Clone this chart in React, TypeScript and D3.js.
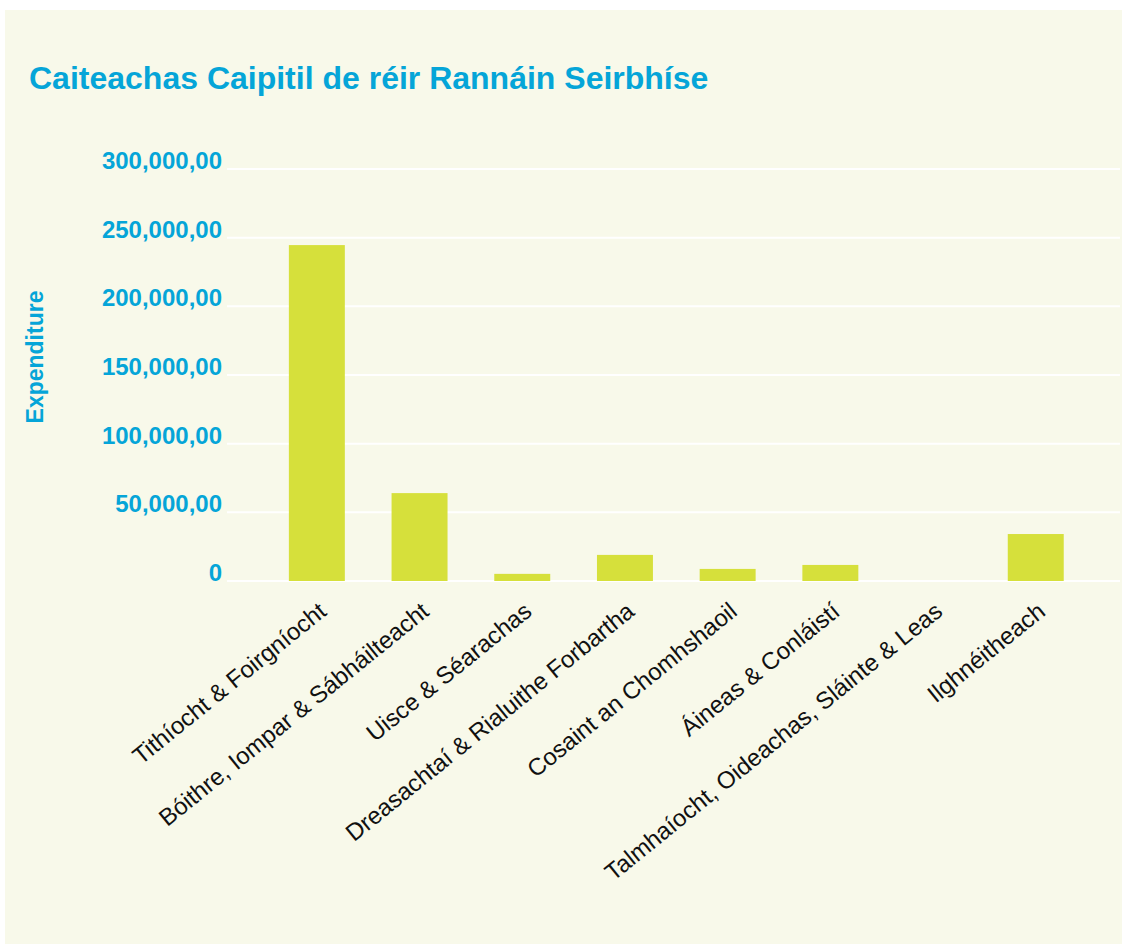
import React from "react";
import * as d3 from "d3";

const title = "Caiteachas Caipitil de réir Rannáin Seirbhíse";
const yAxisTitle = "Expenditure";
const categories = [
  "Tithíocht & Foirgníocht",
  "Bóithre, Iompar & Sábháilteacht",
  "Uisce & Séarachas",
  "Dreasachtaí & Rialuithe Forbartha",
  "Cosaint an Chomhshaoil",
  "Áineas & Conláistí",
  "Talmhaíocht, Oideachas, Sláinte & Leas",
  "Ilghnéitheach",
];
const values = [244600, 64000, 5200, 19000, 8800, 11700, 0, 34200];
const tickValues = [0, 50000, 100000, 150000, 200000, 250000, 300000];
const tickLabels = ["0", "50,000,00", "100,000,00", "150,000,00", "200,000,00", "250,000,00", "300,000,00"];

const W = 1122;
const H = 944;
const BLUE = "#05a5d8";
const BAR = "#d6e03b";
const BG = "#f8f9ea";
const FONT = "'Liberation Sans', Arial, sans-serif";

export default function App() {
  const y = d3.scaleLinear().domain([0, 300000]).range([581, 169]);
  const x = d3.scaleBand<string>().domain(categories).range([265.5, 1087.1]).paddingInner(0.455).paddingOuter(0.2275);
  const gridX0 = 227;
  const gridX1 = 1120;
  const axisY = y(0);
  return (
    <div style={{ position: "absolute", left: 0, top: 0 }}>
      <svg width={W} height={H} style={{ display: "block" }}>
        <rect x={0} y={0} width={W} height={H} fill="#ffffff" />
        <rect x={5} y={10} width={W - 5} height={H - 10} fill={BG} />
        <text x={29} y={89} fill={BLUE} fontFamily={FONT} fontWeight="bold" fontSize={32}>
          {title}
        </text>
        {tickValues.map((t, i) => (
          <g key={t}>
            <line x1={gridX0} x2={gridX1} y1={y(t)} y2={y(t)} stroke="#ffffff" strokeWidth={2} />
            <text x={222} y={y(t)} textAnchor="end" fill={BLUE} fontFamily={FONT} fontWeight="bold" fontSize={24}>
              {tickLabels[i]}
            </text>
          </g>
        ))}
        <text
          transform={`translate(43,${357}) rotate(-90)`}
          textAnchor="middle"
          fill={BLUE}
          fontFamily={FONT}
          fontWeight="bold"
          fontSize={23}
        >
          {yAxisTitle}
        </text>
        {categories.map((c, i) => (
          <rect key={c} x={x(c)} y={y(values[i])} width={x.bandwidth()} height={axisY - y(values[i])} fill={BAR} />
        ))}
        {categories.map((c) => {
          const cx = (x(c) as number) + x.bandwidth() / 2;
          return (
            <text
              key={c}
              transform={`translate(${cx + 11},${axisY + 33}) rotate(-39)`}
              textAnchor="end"
              fill="#111111"
              fontFamily={FONT}
              fontSize={24}
            >
              {c}
            </text>
          );
        })}
      </svg>
    </div>
  );
}
